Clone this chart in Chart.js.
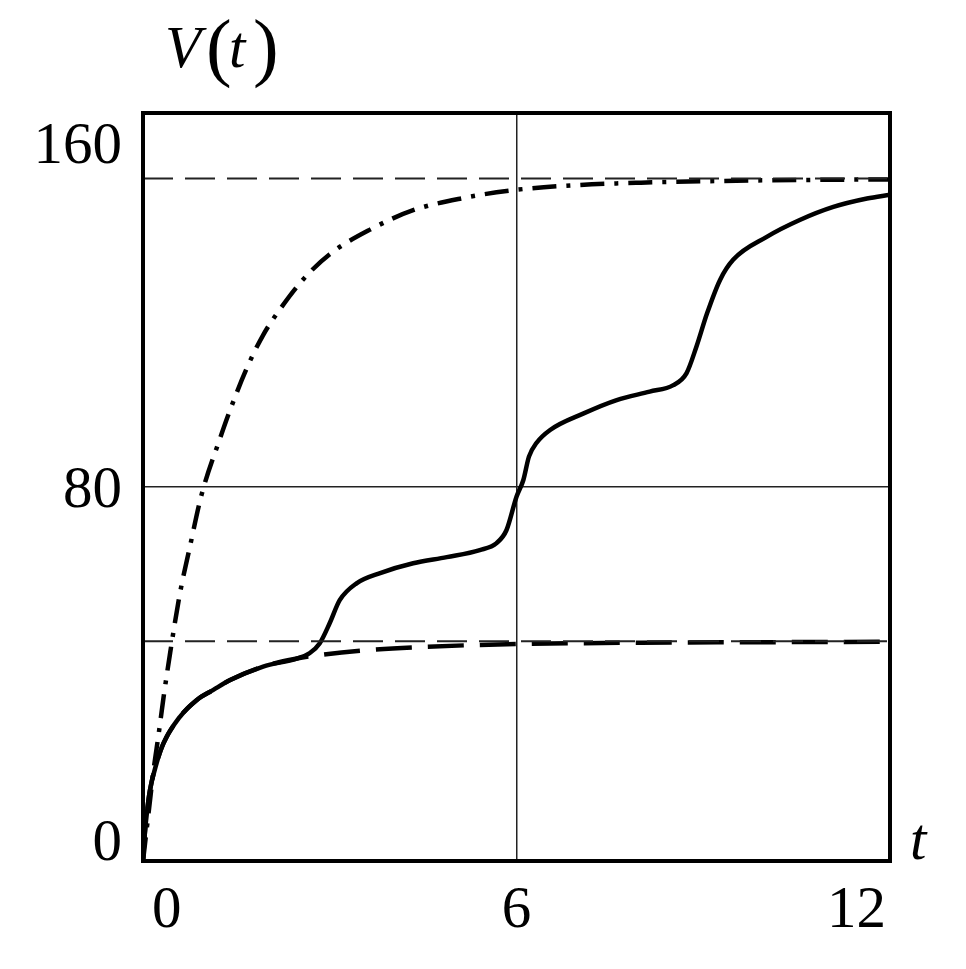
<!DOCTYPE html>
<html>
<head>
<meta charset="utf-8">
<script src="https://cdn.jsdelivr.net/npm/chart.js@4.4.1/dist/chart.umd.min.js"></script>
<style>
  html, body { margin: 0; padding: 0; background: #fff; }
  #wrap { width: 966px; height: 969px; }
</style>
</head>
<body>
<div id="wrap"><canvas id="myChart"></canvas></div>
<script>
// tick labels
const xTicks = [0, 6, 12];
const yTicks = [0, 80, 160];

// solid curve V(t)
const solidT = [0, 0.03, 0.06, 0.11, 0.22, 0.33, 0.59, 0.86, 1.13, 1.4, 1.93, 2.47, 2.68, 2.84, 3.0, 3.16, 3.43, 3.81, 4.34, 4.88, 5.41, 5.68, 5.84, 6.0, 6.11, 6.2, 6.32, 6.54, 7.07, 7.61, 8.14, 8.52, 8.73, 8.89, 9.06, 9.27, 9.48, 10.02, 10.55, 11.09, 11.63, 12];
const solidV = [0, 6, 10, 15, 21, 25.2, 30.8, 34.4, 36.6, 38.7, 41.6, 43.3, 44.5, 46.6, 50.9, 55.8, 59.4, 61.6, 63.7, 65, 66.5, 68, 70.8, 77.9, 81.5, 86.5, 89.4, 92.2, 95.7, 98.6, 100.4, 101.8, 104.3, 110, 117.1, 124.3, 128.6, 133.5, 137.1, 139.9, 141.7, 142.5];

// lower long-dashed curve
const lowT = [0, 0.03, 0.06, 0.11, 0.22, 0.33, 0.59, 0.86, 1.13, 1.4, 1.93, 2.47, 2.8, 3.5, 4.5, 6, 8, 10, 12];
const lowV = [0, 6, 10, 15, 21, 25.2, 30.8, 34.4, 36.6, 38.7, 41.6, 43.3, 44, 45, 45.8, 46.4, 46.7, 46.8, 46.9];

// upper dash-dot curve
const upT = [0, 0.1, 0.17, 0.25, 0.33, 0.43, 0.59, 0.75, 0.94, 1.24, 1.4, 1.67, 1.93, 2.2, 2.58, 3.0, 3.64, 4.34, 5.14, 5.95, 7, 8, 10, 12];
const upV = [0, 11.5, 19.5, 27, 35, 44, 57, 67, 78.3, 90.5, 96.5, 105.5, 112.5, 118, 124.5, 129.8, 135, 139.2, 141.8, 143.5, 144.6, 145.1, 145.6, 145.8];

// asymptotes
const upperLimit = 146;
const lowerLimit = 47;

const pts = (ts, vs) => ts.map((t, i) => ({ x: t, y: vs[i] }));

const serif = '"Liberation Serif", "DejaVu Serif", serif';

const frameAndLabels = {
    id: 'frameAndLabels',
    afterDatasetsDraw(chart) {
        const c = chart.ctx;
        const a = chart.chartArea;
        const xs = chart.scales.x;
        const ys = chart.scales.y;
        c.save();
        // thick frame
        c.strokeStyle = '#000';
        c.lineWidth = 4;
        c.lineJoin = 'miter';
        c.strokeRect(a.left, a.top, a.right - a.left, a.bottom - a.top);

        c.fillStyle = '#000';
        c.font = '59px ' + serif;
        c.textBaseline = 'alphabetic';
        // x tick labels
        xTicks.forEach((v, i) => {
            const px = xs.getPixelForValue(v);
            if (i === 0) { c.textAlign = 'left'; c.fillText(String(v), px + 9, a.bottom + 66); }
            else if (i === xTicks.length - 1) { c.textAlign = 'right'; c.fillText(String(v), px - 4, a.bottom + 66); }
            else { c.textAlign = 'center'; c.fillText(String(v), px, a.bottom + 66); }
        });
        // y tick labels
        c.textAlign = 'right';
        yTicks.forEach((v, i) => {
            const py = ys.getPixelForValue(v);
            let base = py + 20;
            if (i === 0) base = py - 1;
            if (i === yTicks.length - 1) base = py + 50;
            c.fillText(String(v), a.left - 21, base);
        });
        // axis names
        c.textAlign = 'left';
        c.font = 'italic 59px ' + serif;
        c.fillText('t', a.right + 20, a.bottom - 2);
        c.fillText('V', 165, 67);
        c.fillText('t', 229, 67);
        c.font = '77px ' + serif;
        c.fillText('(', 206, 72);
        c.fillText(')', 253, 72);
        c.restore();
    }
};

new Chart(document.getElementById('myChart'), {
    type: 'line',
    data: {
        datasets: [
            {
                label: 'upper limit',
                data: [{ x: 0, y: upperLimit }, { x: 12, y: upperLimit }],
                borderColor: '#222',
                borderWidth: 2,
                borderDash: [30, 12],
                pointRadius: 0,
            },
            {
                label: 'lower limit',
                data: [{ x: 0, y: lowerLimit }, { x: 12, y: lowerLimit }],
                borderColor: '#222',
                borderWidth: 2,
                borderDash: [30, 12],
                pointRadius: 0,
            },
            {
                label: 'lower curve',
                data: pts(lowT, lowV),
                borderColor: '#000',
                borderWidth: 4.5,
                borderDash: [36, 16],
                cubicInterpolationMode: 'monotone',
                pointRadius: 0,
            },
            {
                label: 'upper curve',
                data: pts(upT, upV),
                borderColor: '#000',
                borderWidth: 4.5,
                borderDash: [24, 10, 4, 10],
                cubicInterpolationMode: 'monotone',
                pointRadius: 0,
            },
            {
                label: 'V(t)',
                data: pts(solidT, solidV),
                borderColor: '#000',
                borderWidth: 4.5,
                cubicInterpolationMode: 'monotone',
                pointRadius: 0,
            },
        ]
    },
    options: {
        responsive: true,
        maintainAspectRatio: false,
        animation: false,
        events: [],
        layout: {
            padding: { left: 0, top: 113, right: 76, bottom: 108 },
        },
        plugins: {
            legend: { display: false },
            tooltip: { enabled: false },
        },
        scales: {
            x: {
                type: 'linear',
                min: 0,
                max: 12,
                afterBuildTicks: s => { s.ticks = xTicks.map(v => ({ value: v })); },
                afterFit: s => { s.height = 0; },
                ticks: { display: false },
                border: { display: false },
                grid: { color: '#222', lineWidth: 1.5, drawTicks: false },
            },
            y: {
                min: 0,
                max: 160,
                afterBuildTicks: s => { s.ticks = yTicks.map(v => ({ value: v })); },
                afterFit: s => { s.width = 143; },
                ticks: { display: false },
                border: { display: false },
                grid: { color: '#222', lineWidth: 1.5, drawTicks: false },
            },
        },
    },
    plugins: [frameAndLabels],
});
</script>
</body>
</html>
